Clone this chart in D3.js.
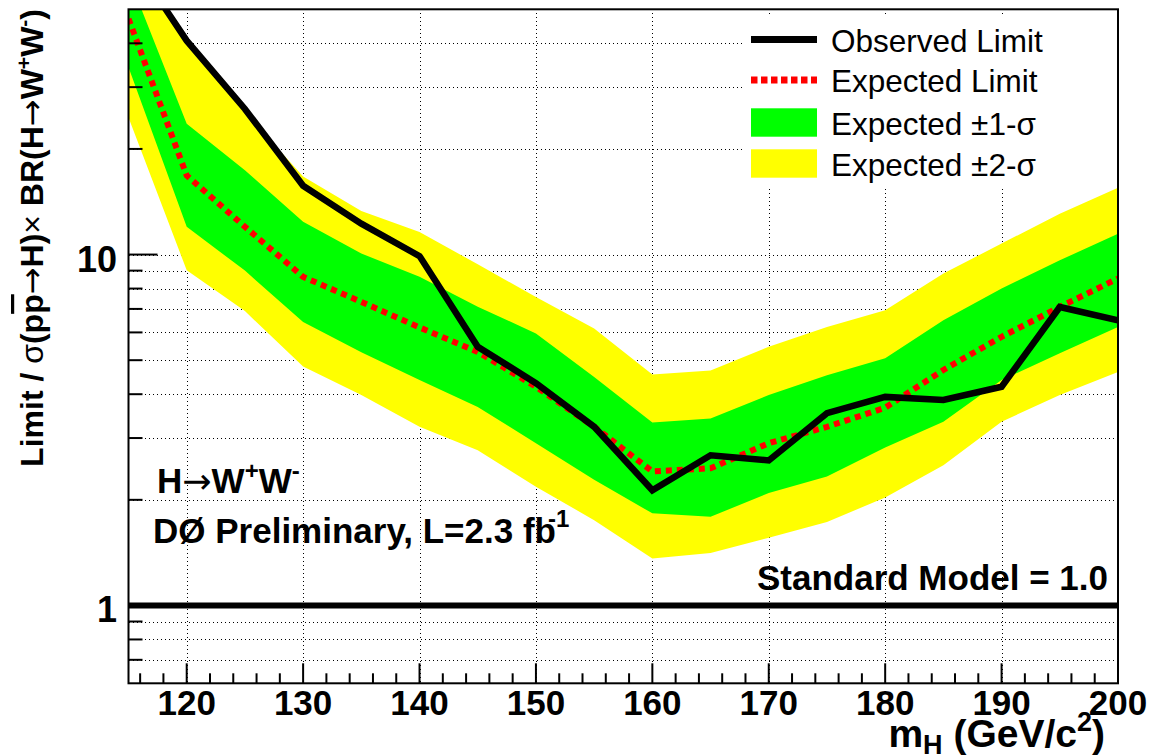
<!DOCTYPE html>
<html>
<head>
<meta charset="utf-8">
<script src="https://cdn.jsdelivr.net/npm/d3@7/dist/d3.min.js"></script>
<style>
  html, body { margin: 0; padding: 0; background: #fff; }
  svg { display: block; font-family: "Liberation Sans", Arial, Helvetica, sans-serif; }
  .sym { font-family: "DejaVu Sans", sans-serif; font-weight: normal; }
</style>
</head>
<body>
<svg id="chart" width="1155" height="755"></svg>
<script>
// ---- data ----
const masses      = [115,120,125,130,135,140,145,150,155,160,165,170,175,180,185,190,195,200];
const observed    = [72, 40.7, 26.0, 15.7, 12.25, 9.9, 5.46, 4.30, 3.23, 2.13, 2.68, 2.59, 3.53, 3.93, 3.85, 4.20, 7.09, 6.50];
const expected    = [47, 16.8, 12.0, 8.64, 7.33, 6.2, 5.28, 4.20, 3.23, 2.41, 2.46, 2.90, 3.23, 3.66, 4.69, 5.83, 7.09, 8.55];
const sigma1Up    = [62, 23.6, 17.4, 12.4, 10.07, 8.64, 7.1, 5.96, 4.48, 3.32, 3.41, 3.98, 4.53, 5.06, 6.50, 8.0, 9.63, 11.47];
const sigma1Down  = [34.2, 12.0, 9.0, 6.42, 5.27, 4.39, 3.68, 2.90, 2.28, 1.83, 1.79, 2.09, 2.33, 2.82, 3.34, 4.39, 5.23, 6.22];
const sigma2Up    = [72, 40, 25.5, 16.7, 13.3, 11.6, 9.38, 7.57, 6.16, 4.55, 4.67, 5.46, 6.22, 6.94, 8.83, 10.75, 13.08, 15.5];
const sigma2Down  = [24.6, 9.02, 6.9, 4.8, 3.98, 3.23, 2.77, 2.18, 1.75, 1.36, 1.41, 1.56, 1.73, 2.03, 2.51, 3.34, 3.98, 4.63];
const smValue     = 1.0;
const xTickLabels = [120,130,140,150,160,170,180,190,200];
const xMinorTicks = d3.range(116, 200, 2).filter(v => v % 10 !== 0);
const yTickLabels = [1, 10];
const yMinorTicks = [0.7,0.8,0.9,2,3,4,5,6,7,8,9,20,30,40];
const legendItems = ["Observed Limit", "Expected Limit", "Expected \u00B11-\u03C3", "Expected \u00B12-\u03C3"];

// ---- layout ----
const L = 128.5, R = 1118, T = 9.3, B = 683.3;
const x = d3.scaleLinear().domain([115, 200]).range([L, R]);
const y = d3.scaleLog().domain([0.6, 50]).range([B, T]);

const svg = d3.select("#chart");
svg.append("rect").attr("width", 1155).attr("height", 755).attr("fill", "#fff");

svg.append("defs").append("clipPath").attr("id", "plotclip")
  .append("rect").attr("x", L).attr("y", T).attr("width", R - L).attr("height", B - T);

// grid
const grid = svg.append("g").attr("stroke", "#000").attr("stroke-width", 1)
  .attr("stroke-dasharray", "1,3").attr("shape-rendering", "crispEdges");
grid.selectAll("line.h").data(yMinorTicks.concat(yTickLabels)).join("line").attr("class", "h")
  .attr("x1", L).attr("x2", R).attr("y1", d => Math.round(y(d)) + 0.5).attr("y2", d => Math.round(y(d)) + 0.5);
grid.selectAll("line.v").data(xTickLabels.filter(d => d < 200)).join("line").attr("class", "v")
  .attr("y1", T).attr("y2", B).attr("x1", d => Math.round(x(d)) + 0.5).attr("x2", d => Math.round(x(d)) + 0.5);

const plot = svg.append("g").attr("clip-path", "url(#plotclip)");
const idx = d3.range(masses.length);

const band = (lo, hi) => d3.area()
  .x(i => x(masses[i])).y0(i => y(lo[i])).y1(i => y(hi[i]));

plot.append("path").datum(idx).attr("d", band(sigma2Down, sigma2Up)).attr("fill", "#ffff00");
plot.append("path").datum(idx).attr("d", band(sigma1Down, sigma1Up)).attr("fill", "#00ff00");

const line = vals => d3.line().x(i => x(masses[i])).y(i => y(vals[i]));
plot.append("path").datum(idx).attr("d", line(expected))
  .attr("fill", "none").attr("stroke", "#ff0000").attr("stroke-width", 6).attr("stroke-dasharray", "6,5");
plot.append("path").datum(idx).attr("d", line(observed))
  .attr("fill", "none").attr("stroke", "#000").attr("stroke-width", 6.5).attr("stroke-linejoin", "miter");

// SM line
plot.append("line").attr("x1", L).attr("x2", R).attr("y1", y(smValue)).attr("y2", y(smValue))
  .attr("stroke", "#000").attr("stroke-width", 6);

// legend
const lg = svg.append("g");
lg.append("rect").attr("x", 745).attr("y", 17).attr("width", R - 745 - 1).attr("height", 170).attr("fill", "#fff");
const rowsY = [39.5, 80, 122.5, 163.5];
lg.append("line").attr("x1", 751).attr("x2", 817).attr("y1", rowsY[0]).attr("y2", rowsY[0])
  .attr("stroke", "#000").attr("stroke-width", 7);
lg.append("line").attr("x1", 751).attr("x2", 817).attr("y1", rowsY[1]).attr("y2", rowsY[1])
  .attr("stroke", "#ff0000").attr("stroke-width", 7).attr("stroke-dasharray", "6.5,3.5");
lg.append("rect").attr("x", 751).attr("y", rowsY[2] - 14.2).attr("width", 66).attr("height", 28.4).attr("fill", "#00ff00");
lg.append("rect").attr("x", 751).attr("y", rowsY[3] - 14.2).attr("width", 66).attr("height", 28.4).attr("fill", "#ffff00");
lg.selectAll("text").data(legendItems).join("text")
  .attr("x", 831).attr("y", (d, i) => rowsY[i] + 12)
  .attr("font-size", 31.5).attr("fill", "#000").text(d => d);

// frame
svg.append("rect").attr("x", L).attr("y", T).attr("width", R - L).attr("height", B - T)
  .attr("fill", "none").attr("stroke", "#000").attr("stroke-width", 2);

// axis ticks
const ax = svg.append("g").attr("stroke", "#000").attr("stroke-width", 2);
ax.selectAll("line.xM").data(xTickLabels).join("line").attr("class", "xM")
  .attr("x1", d => x(d)).attr("x2", d => x(d)).attr("y1", B).attr("y2", B - 20);
ax.selectAll("line.xm").data(xMinorTicks).join("line").attr("class", "xm")
  .attr("x1", d => x(d)).attr("x2", d => x(d)).attr("y1", B).attr("y2", B - 10);
ax.selectAll("line.yM").data(yTickLabels).join("line").attr("class", "yM")
  .attr("x1", L).attr("x2", L + 29).attr("y1", d => y(d)).attr("y2", d => y(d));
ax.selectAll("line.ym").data(yMinorTicks).join("line").attr("class", "ym")
  .attr("x1", L).attr("x2", L + 14).attr("y1", d => y(d)).attr("y2", d => y(d));

// tick labels
svg.selectAll("text.xl").data(xTickLabels).join("text").attr("class", "xl")
  .attr("x", d => x(d)).attr("y", 715).attr("text-anchor", "middle")
  .attr("font-size", 35).attr("font-weight", "bold").text(d => d);
svg.selectAll("text.yl").data(yTickLabels).join("text").attr("class", "yl")
  .attr("x", 117).attr("y", d => y(d) + 17).attr("text-anchor", "end")
  .attr("font-size", 36).attr("font-weight", "bold").text(d => d);

// x title
const xt = svg.append("text").attr("x", 1105).attr("y", 747).attr("text-anchor", "end")
  .attr("font-size", 39).attr("font-weight", "bold");
xt.append("tspan").text("m");
xt.append("tspan").attr("font-size", 27).attr("dy", 7).text("H");
xt.append("tspan").attr("dy", -7).text(" (GeV/c");
xt.append("tspan").attr("font-size", 27).attr("dy", -16).text("2");
xt.append("tspan").attr("dy", 16).text(")");

// y title
const yt = svg.append("text").attr("transform", "translate(43,9) rotate(-90)")
  .attr("text-anchor", "end").attr("font-size", 32).attr("font-weight", "bold");
yt.append("tspan").text("Limit / ");
yt.append("tspan").attr("font-weight", "normal").text("\u03C3");
yt.append("tspan").text("(p");
yt.append("tspan").style("text-decoration", "overline").text("p");
yt.append("tspan").attr("class", "sym").text("\u2192");
yt.append("tspan").text("H)");
yt.append("tspan").attr("font-weight", "normal").text("\u00D7");
yt.append("tspan").text(" BR(H");
yt.append("tspan").attr("class", "sym").text("\u2192");
yt.append("tspan").text("W");
yt.append("tspan").attr("font-size", 21).attr("dy", -12).text("+");
yt.append("tspan").attr("dy", 12).text("W");
yt.append("tspan").attr("font-size", 21).attr("dy", -12).text("-");
yt.append("tspan").attr("dy", 12).text(")");

// annotations
const a1 = svg.append("text").attr("x", 157).attr("y", 493).attr("font-size", 35).attr("font-weight", "bold");
a1.append("tspan").text("H");
a1.append("tspan").attr("class", "sym").text("\u2192");
a1.append("tspan").text("W");
a1.append("tspan").attr("font-size", 24).attr("dy", -14).text("+");
a1.append("tspan").attr("dy", 14).text("W");
a1.append("tspan").attr("font-size", 24).attr("dy", -14).text("-");

const a2 = svg.append("text").attr("x", 153).attr("y", 543).attr("font-size", 35).attr("font-weight", "bold");
a2.append("tspan").text("D\u00D8 Preliminary, L=2.3 fb");
a2.append("tspan").attr("font-size", 24).attr("dx", -8).attr("dy", -16).text("-1");

svg.append("text").attr("x", 1108).attr("y", 590).attr("text-anchor", "end")
  .attr("font-size", 35).attr("font-weight", "bold").text("Standard Model = 1.0");
</script>
</body>
</html>
